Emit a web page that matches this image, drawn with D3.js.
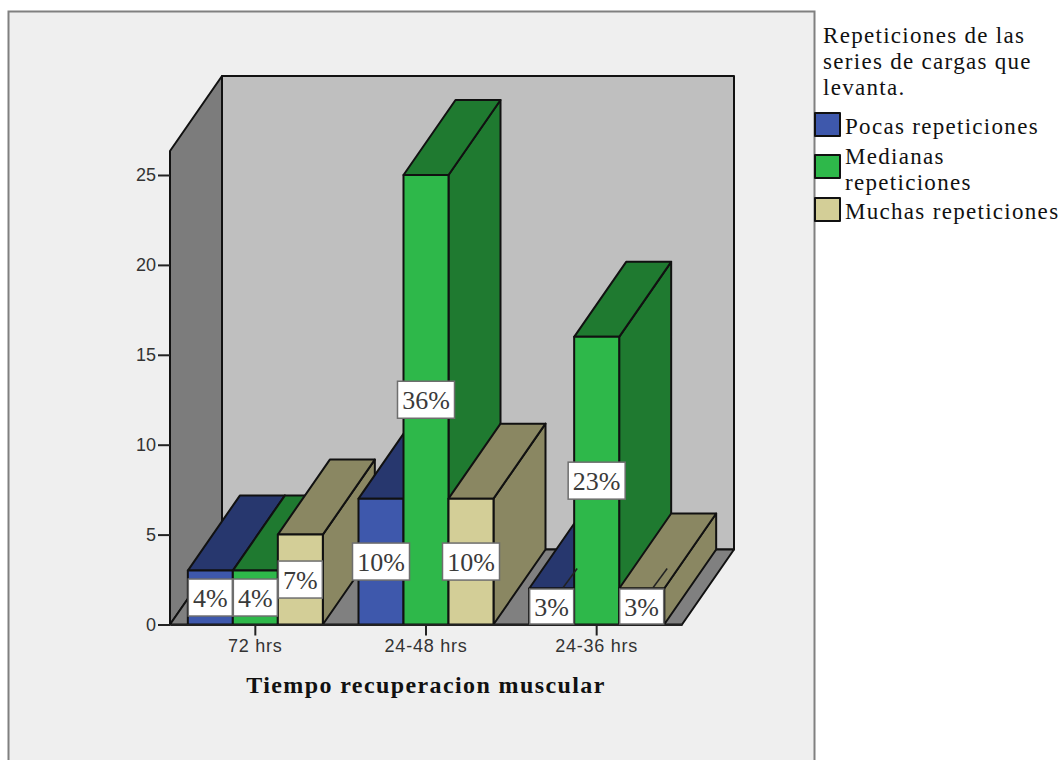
<!DOCTYPE html>
<html>
<head>
<meta charset="utf-8">
<title>Tiempo recuperacion muscular</title>
<script src="https://d3js.org/d3.v7.min.js"></script>
<style>
	html, body { margin:0; padding:0; background:#ffffff; overflow:hidden; }
	svg { display:block; }
	.edge { stroke:#111111; stroke-width:2; stroke-linejoin:round; }
	.tick text { font-family:"Liberation Sans"; font-size:18px; fill:#333333; }
	.x-axis .tick text { letter-spacing:0.75px; }
	.tick line, .axis path { stroke:#222222; stroke-width:2; }
	.serif { font-family:"Liberation Serif"; fill:#111111; }
	.legend text { letter-spacing:1.3px; }
	.axis-title { letter-spacing:1.4px; }
</style>
</head>
<body>
<div id="chart"></div>
<script>
// values
var categories = ["72 hrs", "24-48 hrs", "24-36 hrs"];
var seriesNames = ["Pocas repeticiones", "Medianas repeticiones", "Muchas repeticiones"];
var pocas = [3, 7, 2];
var medianas = [3, 25, 16];
var muchas = [5, 7, 2];
var pocasLabels = ["4%", "10%", "3%"];
var medianasLabels = ["4%", "36%", "23%"];
var muchasLabels = ["7%", "10%", "3%"];
var yTicks = [0, 5, 10, 15, 20, 25];
var legendTitle = ["Repeticiones de las", "series de cargas que", "levanta."];

var seriesValues = [pocas, medianas, muchas];
var seriesLabels = [pocasLabels, medianasLabels, muchasLabels];
var frontColors = ["#3e58ac", "#2eb84a", "#d3ce97"];
var darkColors = ["#27376e", "#1f7a30", "#8a8762"];

var width = 1064, height = 760;
var plot = {left:170, right:682, bottom:624.5, top:151};
var depth = {x:52, y:-75};

var svg = d3.select("#chart").append("svg").attr("width", width).attr("height", height);

var x = d3.scaleBand().domain(categories).range([plot.left, plot.right]);
var barWidth = 45;
var xInner = d3.scaleBand().domain(d3.range(seriesNames.length))
	.range([x.bandwidth() / 2 - barWidth * 1.5, x.bandwidth() / 2 + barWidth * 1.5]);
var y = d3.scaleLinear().domain([0, 25]).range([plot.bottom, 175]);

var pts = function(a) { return a.map(function(p) { return p.join(","); }).join(" "); };
var poly = function(parent, a, fill) {
	return parent.append("polygon").attr("class", "edge").attr("points", pts(a)).attr("fill", fill);
};

// panel, runs off the bottom of the picture
svg.append("rect").attr("x", 8.5).attr("y", 11.5).attr("width", 806).attr("height", 780)
	.attr("fill", "#efefef").attr("stroke", "#808080").attr("stroke-width", 2);

// walls and floor
var walls = svg.append("g");
var d = depth;
poly(walls, [[plot.left + d.x, plot.top + d.y], [plot.right + d.x, plot.top + d.y],
	[plot.right + d.x, plot.bottom + d.y], [plot.left + d.x, plot.bottom + d.y]], "#bfbfbf");
poly(walls, [[plot.left, plot.top], [plot.left + d.x, plot.top + d.y],
	[plot.left + d.x, plot.bottom + d.y], [plot.left, plot.bottom]], "#7c7c7c");
poly(walls, [[plot.left, plot.bottom], [plot.right, plot.bottom],
	[plot.right + d.x, plot.bottom + d.y], [plot.left + d.x, plot.bottom + d.y]], "#808080");

// bars, back to front by painting order
var bars = svg.append("g");
categories.forEach(function(cat, c) {
	seriesNames.forEach(function(name, s) {
		var x0 = x(cat) + xInner(s), x1 = x0 + xInner.bandwidth();
		var y0 = y(seriesValues[s][c]);
		var y1 = y(0);
		poly(bars, [[x1, y0], [x1 + d.x, y0 + d.y], [x1 + d.x, y1 + d.y], [x1, y1]], darkColors[s]);
		poly(bars, [[x0, y0], [x0 + d.x, y0 + d.y], [x1 + d.x, y0 + d.y], [x1, y0]], darkColors[s]);
		poly(bars, [[x0, y0], [x1, y0], [x1, y1], [x0, y1]], frontColors[s]);
	});
});

// axes
var yAxis = d3.axisLeft(y).tickValues(yTicks).tickSize(12).tickPadding(2).tickSizeOuter(0);
svg.append("g").attr("class", "axis").attr("transform", "translate(" + plot.left + ",0)").call(yAxis)
	.select(".domain").remove();
var xAxis = d3.axisBottom(x).tickSize(11).tickPadding(4).tickSizeOuter(0);
svg.append("g").attr("class", "axis x-axis").attr("transform", "translate(0," + plot.bottom + ")").call(xAxis);

svg.append("text").attr("class", "serif axis-title").attr("x", 426).attr("y", 693)
	.attr("text-anchor", "middle").attr("font-weight", "bold").attr("font-size", 24)
	.text("Tiempo recuperacion muscular");

// percent labels, with the short leaders that show on the small bars of the last group
var labels = svg.append("g");
categories.forEach(function(cat, c) {
	seriesNames.forEach(function(name, s) {
		var v = seriesValues[s][c];
		var x0 = x(cat) + xInner(s);
		var cx = x0 + xInner.bandwidth() / 2;
		var cy = y(v / 2);
		var txt = seriesLabels[s][c];
		if (v == 2 && c == 2) {
			labels.append("line").attr("stroke", "#222222").attr("stroke-width", 1.5)
				.attr("x1", x0 + 34).attr("y1", y(v) - 1)
				.attr("x2", x0 + 48).attr("y2", y(v) - 20);
		}
		var boxW = txt.length > 2 ? 57 : 44;
		var boxH = v == 2 ? 35 : 37;
		labels.append("rect").attr("x", cx - boxW / 2).attr("y", cy - boxH / 2)
			.attr("width", boxW).attr("height", boxH)
			.attr("fill", "#ffffff").attr("stroke", "#6e6e6e").attr("stroke-width", 1.5);
		labels.append("text").attr("class", "serif").attr("x", cx).attr("y", cy + 9)
			.attr("text-anchor", "middle").attr("font-size", 26).style("fill", "#3a3a3a")
			.text(txt);
	});
});

// legend
var legend = svg.append("g").attr("class", "serif legend").attr("font-size", 23);
legend.selectAll("text.title").data(legendTitle).enter().append("text")
	.attr("class", "title serif").attr("x", 823)
	.attr("y", function(t, i) { return 43 + i * 26; })
	.text(function(t) { return t; });
var swatchY = [113, 155, 198];
seriesNames.forEach(function(name, s) {
	legend.append("rect").attr("class", "edge").attr("x", 815).attr("y", swatchY[s])
		.attr("width", 25).attr("height", 23).attr("fill", frontColors[s]);
});
var legendLines = [[["Pocas repeticiones"], 134], [["Medianas", "repeticiones"], 164], [["Muchas repeticiones"], 219]];
legendLines.forEach(function(row) {
	row[0].forEach(function(line, i) {
		legend.append("text").attr("class", "serif").attr("x", 845)
			.attr("y", row[1] + i * 26).text(line);
	});
});
</script>
</body>
</html>
